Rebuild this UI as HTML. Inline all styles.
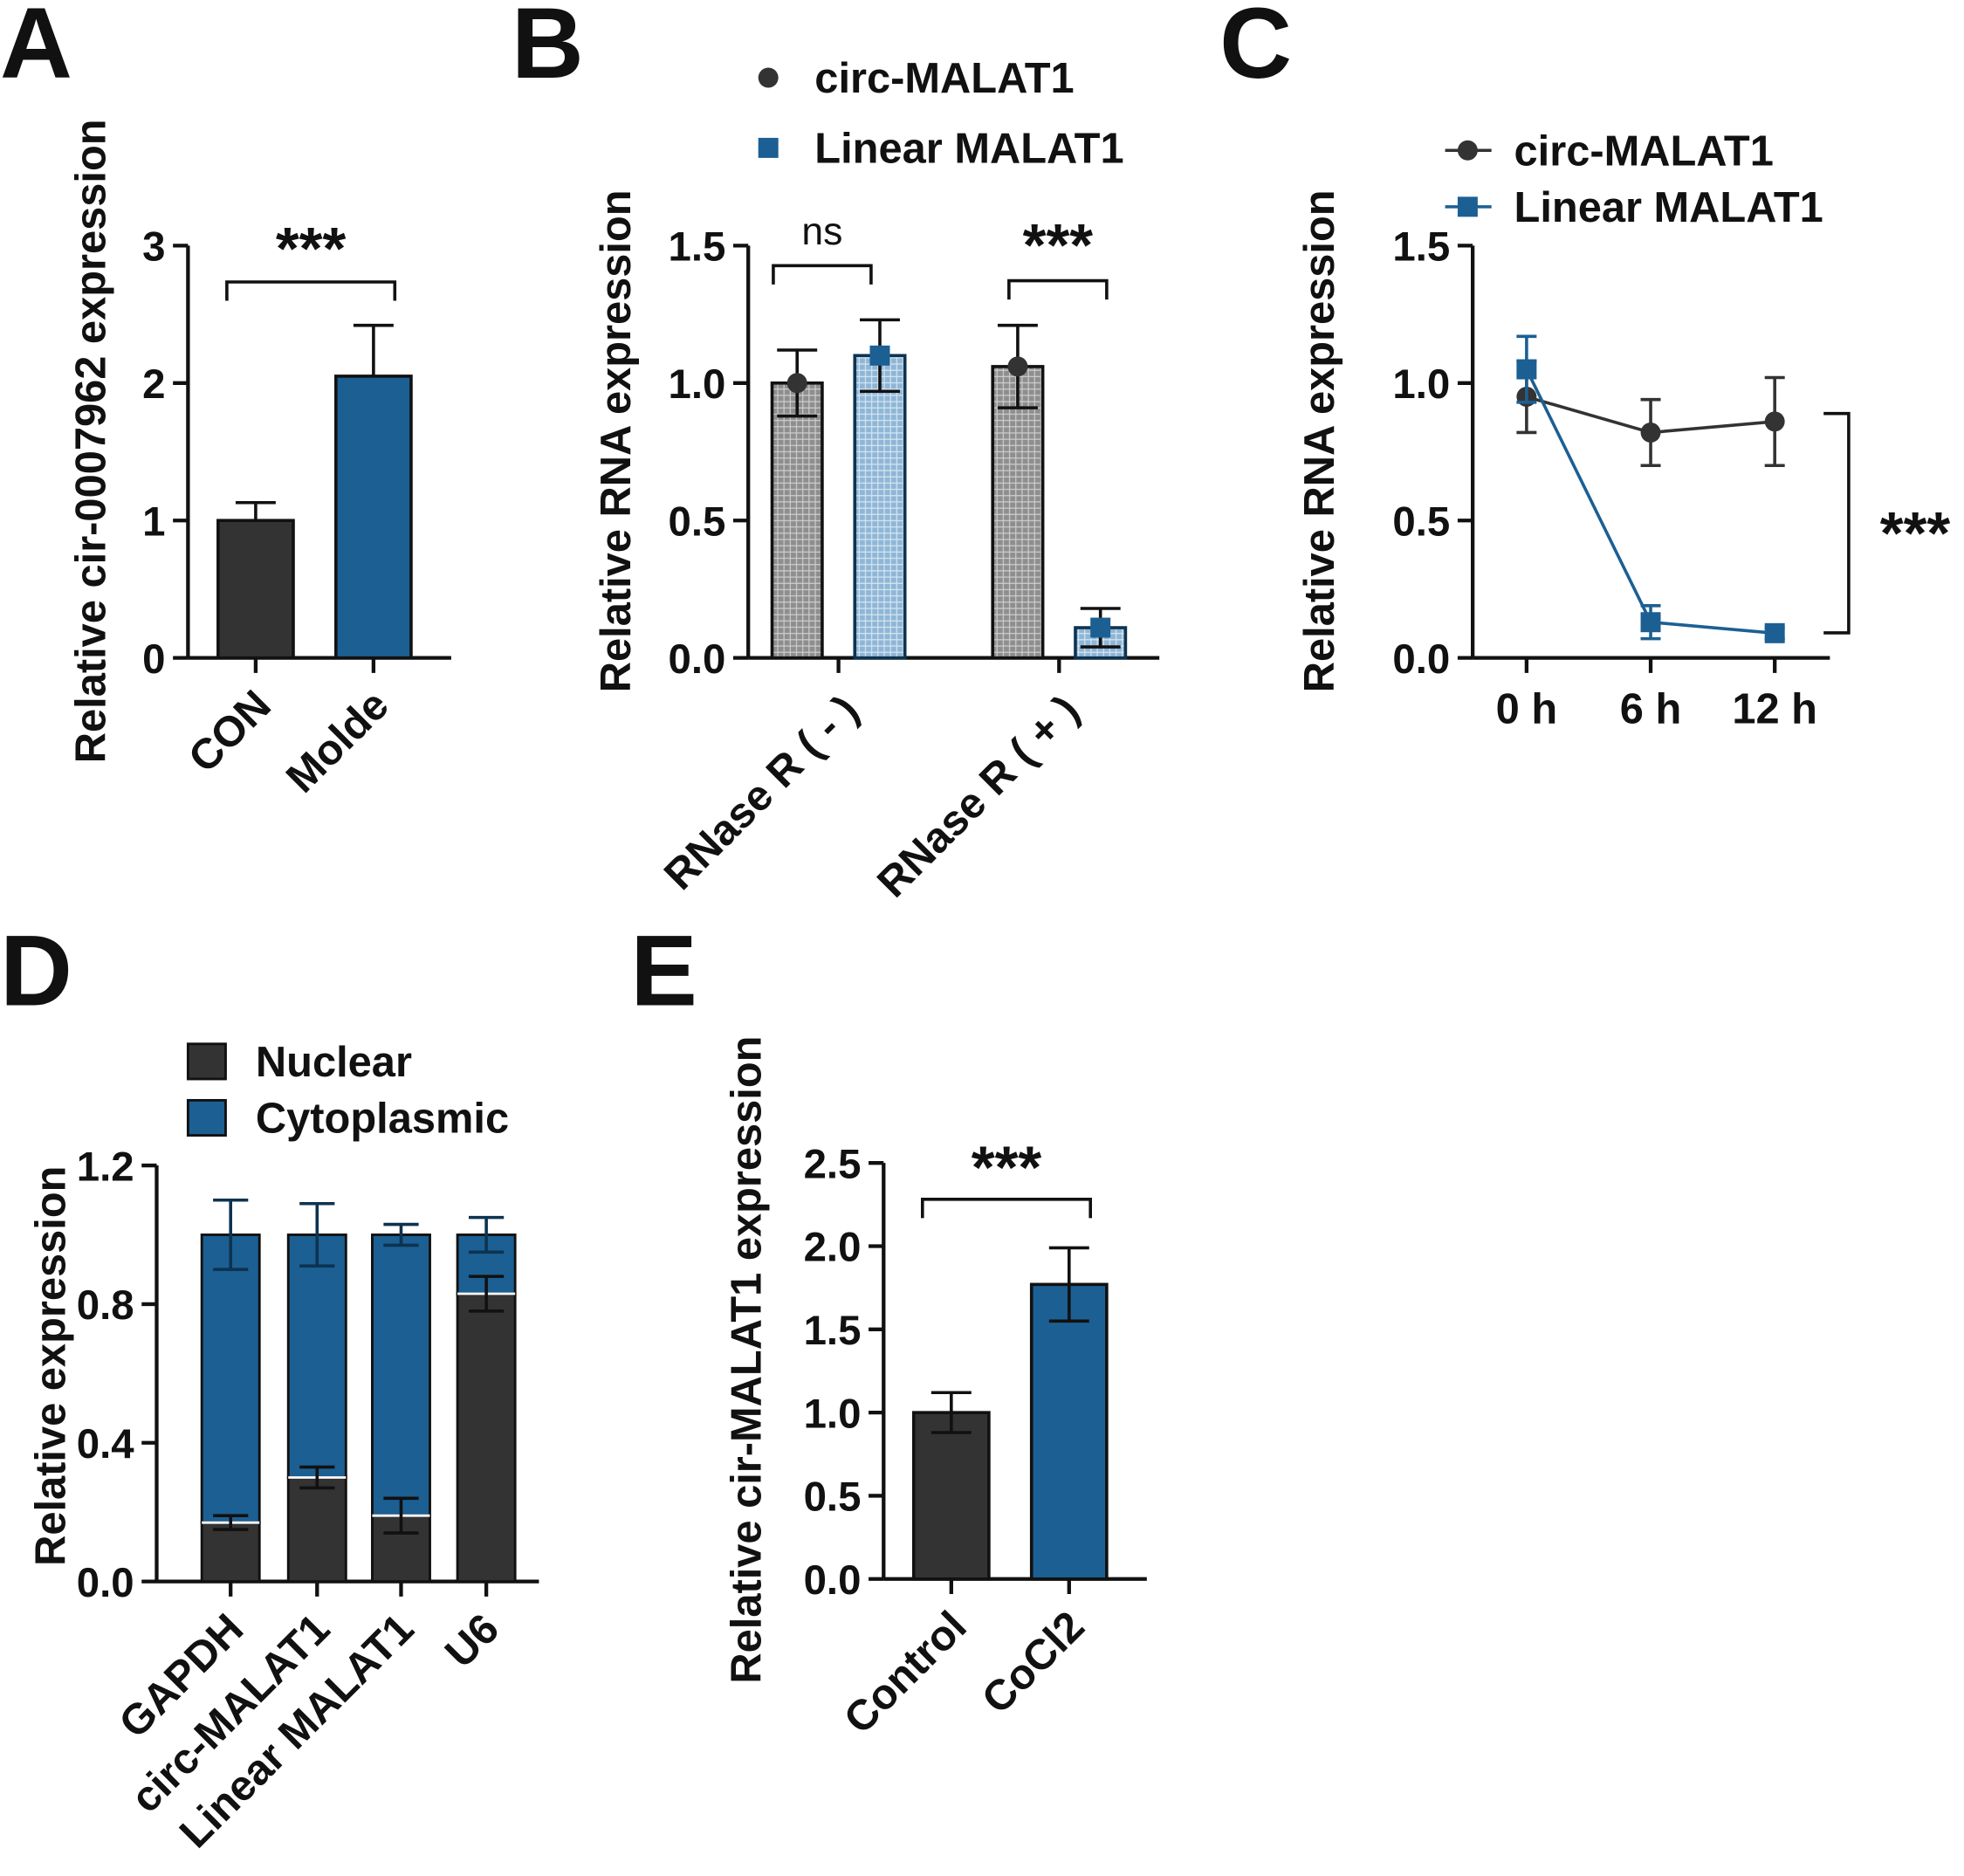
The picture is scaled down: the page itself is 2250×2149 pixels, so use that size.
<!DOCTYPE html>
<html><head><meta charset="utf-8"><style>
html,body{margin:0;padding:0;background:#fff;}
svg{display:block;}
text{font-family:"Liberation Sans",Arial,sans-serif;font-weight:bold;fill:#111;}
</style></head><body>
<svg id="fig" width="2250" height="2149" viewBox="0 0 1567 1497" preserveAspectRatio="none" xmlns="http://www.w3.org/2000/svg">
<defs>
<pattern id="pg" width="5" height="5" patternUnits="userSpaceOnUse"><rect width="5" height="5" fill="#8e8e8e"/><path d="M0 0.5H5M0.5 0V5" stroke="#cfcfcf" stroke-width="0.8"/></pattern>
<pattern id="pb" width="5" height="5" patternUnits="userSpaceOnUse"><rect width="5" height="5" fill="#8fb6d6"/><path d="M0 0.5H5M0.5 0V5" stroke="#d8e7f3" stroke-width="0.8"/></pattern>
</defs>
<g id="root"></g>
</svg>
<script>
// Panel A
const aCats=["CON","Molde"], aVals=[1.0,2.05], aErr=[0.13,0.37], aTicks=[0,1,2,3];
// Panel B
const bGroups=["RNase R ( - )","RNase R ( + )"], bCirc=[1.0,1.06], bCircErr=[0.12,0.15], bLin=[1.1,0.11], bLinErr=[0.13,0.07], bTicks=["0.0","0.5","1.0","1.5"];
// Panel C
const cCats=["0 h","6 h","12 h"], cCirc=[0.95,0.82,0.86], cCircErr=[0.13,0.12,0.16], cLin=[1.05,0.13,0.09], cLinErr=[0.12,0.06,0.02], cTicks=["0.0","0.5","1.0","1.5"];
// Panel D
const dCats=["GAPDH","circ-MALAT1","Linear MALAT1","U6"], dNuc=[0.17,0.30,0.19,0.83], dNucErr=[0.02,0.03,0.05,0.05], dCyto=[0.83,0.70,0.81,0.17], dCytoErr=[0.10,0.09,0.03,0.05], dTicks=["0.0","0.4","0.8","1.2"];
// Panel E
const eCats=["Control","CoCl2"], eVals=[1.0,1.77], eErr=[0.12,0.22], eTicks=["0.0","0.5","1.0","1.5","2.0","2.5"];

const NS="http://www.w3.org/2000/svg", root=document.getElementById('root');
function el(tag,attrs,parent,txt){const e=document.createElementNS(NS,tag);for(const k in attrs)e.setAttribute(k,attrs[k]);if(txt!==undefined)e.textContent=txt;(parent||root).appendChild(e);return e;}
function line(x1,y1,x2,y2,p,c,w){return el('line',{x1,y1,x2,y2,stroke:c||'#111','stroke-width':w||3},p);}
function errbar(x,y1,y2,p,c,half,ybase){const h=half||16;line(x,y1,x,y2===null?ybase:y2,p,c,2.5);line(x-h,y1,x+h,y1,p,c,2.5);if(y2!==null)line(x-h,y2,x+h,y2,p,c,2.5);}
function axisY(p,x,y0,y1,xEnd,ticks,vmax,label,lx,ly){
  const g=el('g',{},p);
  line(x,y0,x,y1,g);line(x,y0,xEnd,y0,g);
  ticks.forEach(t=>{const v=parseFloat(t);const y=y0-(y0-y1)*v/vmax;line(x-12,y,x,y,g);
    const tt=el('text',{x:x-18,y:y+12,'font-size':33,'text-anchor':'end'},g,t);});
  const t=el('text',{x:0,y:0,'font-size':34,'text-anchor':'middle',transform:`translate(${lx},${ly}) rotate(-90)`},g,label);
  
}
function xlab(p,x,y,s,fs){const t=el('text',{x:0,y:0,'font-size':fs||34,'text-anchor':'end',transform:`translate(${x},${y}) rotate(-45)`},p,s);}
function letter(s,x,y){const t=el('text',{x,y,'font-size':80},root,s);}
function sig(p,x1,x2,y,s,ty,name){const g=el('g',{},p);
  el('path',{d:`M${x1} ${y+15}V${y}H${x2}V${y+15}`,fill:'none',stroke:'#111','stroke-width':2.5},g);
  el('text',{x:(x1+x2)/2,y:ty,'font-size':s==='ns'?31:48,'text-anchor':'middle',style:s==='ns'?'font-weight:normal':''},g,s);}

// ===== A =====
(function(){const g=el('g',{});
 const y0=525,y1=196,vmax=3,sc=v=>y0-(y0-y1)*v/vmax,xs=[204,298],cols=['#333333','#1c5f93'];
 letter('A',0,62);
 axisY(g,150,y0,y1,360,aTicks.map(String),vmax,'Relative cir-0007962 expression',84,352);
 aVals.forEach((v,i)=>{const r=el('rect',{x:xs[i]-30,y:sc(v),width:60,height:y0-sc(v),fill:cols[i],stroke:'#111','stroke-width':2.5},g);
  errbar(xs[i],sc(v+aErr[i]),null,g,'#111',16,sc(v));line(xs[i],y0,xs[i],y0+12,g);xlab(g,xs[i]+14,y0+40,aCats[i]);});
 sig(g,181,315,225,'***',215,'significance-a');
})();

// ===== B =====
(function(){const g=el('g',{});
 const y0=525,y1=196,vmax=1.5,sc=v=>y0-(y0-y1)*v/vmax,gx=[669,845];
 letter('B',408,62);
 axisY(g,597,y0,y1,925,bTicks,vmax,'Relative RNA expression',503,352);
 bGroups.forEach((nm,i)=>{const cx=gx[i]-33,lx=gx[i]+33;
  let r=el('rect',{x:cx-20,y:sc(bCirc[i]),width:40,height:y0-sc(bCirc[i]),fill:'url(#pg)',stroke:'#111','stroke-width':2.5},g);
  r=el('rect',{x:lx-20,y:sc(bLin[i]),width:40,height:y0-sc(bLin[i]),fill:'url(#pb)',stroke:'#0d3350','stroke-width':2.5},g);
  errbar(cx,sc(bCirc[i]+bCircErr[i]),sc(bCirc[i]-bCircErr[i]),g,'#111');
  errbar(lx,sc(bLin[i]+bLinErr[i]),sc(bLin[i]-bLinErr[i]),g,'#111');
  let m=el('circle',{cx,cy:sc(bCirc[i]),r:8,fill:'#333'},g);
  m=el('rect',{x:lx-8,y:sc(bLin[i])-8,width:16,height:16,fill:'#1c5f93'},g);
  line(gx[i],y0,gx[i],y0+12,g);xlab(g,gx[i]+18,y0+44,nm);});
 sig(g,617,695,212,'ns',195,'significance-ns');
 sig(g,805,883,224,'***',212,'significance-b');
 const lg=el('g',{},g);
 el('circle',{cx:613,cy:62,r:8,fill:'#333'},lg);el('text',{x:650,y:74,'font-size':34},lg,'circ-MALAT1');
 el('rect',{x:605,y:110,width:16,height:16,fill:'#1c5f93'},lg);el('text',{x:650,y:130,'font-size':34},lg,'Linear MALAT1');
})();

// ===== C =====
(function(){const g=el('g',{});
 const y0=525,y1=196,vmax=1.5,sc=v=>y0-(y0-y1)*v/vmax,xs=cCats.map((c,i)=>1218+i*99);
 letter('C',973,62);
 axisY(g,1175,y0,y1,1460,cTicks,vmax,'Relative RNA expression',1064,352);
 cCats.forEach((c,i)=>{line(xs[i],y0,xs[i],y0+12,g);const t=el('text',{x:xs[i],y:577,'font-size':34,'text-anchor':'middle'},g,c);});
 [[cCirc,cCircErr,'#333','circ'],[cLin,cLinErr,'#1c5f93','linear']].forEach(([v,e,c,n])=>{
  const p=el('polyline',{points:v.map((d,i)=>xs[i]+','+sc(d)).join(' '),fill:'none',stroke:c,'stroke-width':2.5},g);
  v.forEach((d,i)=>{errbar(xs[i],sc(d+e[i]),sc(d-e[i]),g,c,8);
   const m=n==='circ'?el('circle',{cx:xs[i],cy:sc(d),r:8,fill:c},g):el('rect',{x:xs[i]-8,y:sc(d)-8,width:16,height:16,fill:c},g);
   });});
 el('path',{d:'M1455 330H1475V505H1455',fill:'none',stroke:'#111','stroke-width':2.5},g);
 const s=el('text',{x:1528,y:442,'font-size':48,'text-anchor':'middle'},g,'***');
 const lg=el('g',{},g);
 line(1153,120,1190,120,lg,'#333',2.5);el('circle',{cx:1171,cy:120,r:8,fill:'#333'},lg);el('text',{x:1208,y:132,'font-size':34},lg,'circ-MALAT1');
 line(1153,165,1190,165,lg,'#1c5f93',2.5);el('rect',{x:1163,y:157,width:16,height:16,fill:'#1c5f93'},lg);el('text',{x:1208,y:177,'font-size':34},lg,'Linear MALAT1');
})();

// ===== D =====
(function(){const g=el('g',{});
 const y0=1262,y1=930,vmax=1.2,sc=v=>y0-(y0-y1)*v/vmax,xs=[184,253,320,388];
 letter('D',0,802);
 axisY(g,125,y0,y1,430,dTicks,vmax,'Relative expression',52,1090);
 dCats.forEach((c,i)=>{
  let r=el('rect',{x:xs[i]-23,y:sc(dNuc[i]),width:46,height:y0-sc(dNuc[i]),fill:'#333',stroke:'#111','stroke-width':2},g);
  const top=dNuc[i]+dCyto[i];
  r=el('rect',{x:xs[i]-23,y:sc(top),width:46,height:sc(dNuc[i])-sc(top),fill:'#1c5f93',stroke:'#111','stroke-width':2},g);
  line(xs[i]-23,sc(dNuc[i]),xs[i]+23,sc(dNuc[i]),g,'#fff',2);
  errbar(xs[i],sc(dNuc[i]+dNucErr[i]),sc(dNuc[i]-dNucErr[i]),g,'#111',14);
  errbar(xs[i],sc(top+dCytoErr[i]),sc(top-dCytoErr[i]),g,'#0d3350',14);
  line(xs[i],y0,xs[i],y0+12,g);xlab(g,xs[i]+12,y0+40,c);});
 const lg=el('g',{},g);
 el('rect',{x:150,y:833,width:30,height:28,fill:'#333',stroke:'#111','stroke-width':2},lg);el('text',{x:204,y:859,'font-size':34},lg,'Nuclear');
 el('rect',{x:150,y:878,width:30,height:28,fill:'#1c5f93',stroke:'#111','stroke-width':2},lg);el('text',{x:204,y:904,'font-size':34},lg,'Cytoplasmic');
})();

// ===== E =====
(function(){const g=el('g',{});
 const y0=1260,y1=928,vmax=2.5,sc=v=>y0-(y0-y1)*v/vmax,xs=[759,853],cols=['#333333','#1c5f93'];
 letter('E',503,802);
 axisY(g,705,y0,y1,915,eTicks,vmax,'Relative cir-MALAT1 expression',607,1085);
 eVals.forEach((v,i)=>{const r=el('rect',{x:xs[i]-30,y:sc(v),width:60,height:y0-sc(v),fill:cols[i],stroke:'#111','stroke-width':2.5},g);
  errbar(xs[i],sc(v+eErr[i]),sc(v-eErr[i]),g,'#111');line(xs[i],y0,xs[i],y0+12,g);xlab(g,xs[i]+14,y0+40,eCats[i]);});
 sig(g,736,870,957,'***',948,'significance-e');
})();
</script>
</body></html>
